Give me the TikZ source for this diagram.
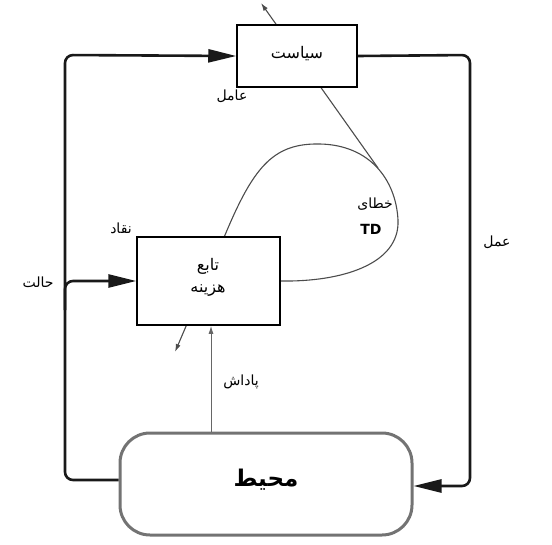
\documentclass[tikz,border=0pt]{standalone}
\usepackage{fontspec}
\newfontfamily\fa[Script=Arabic]{DejaVu Sans}
\setmainfont{DejaVu Sans}
\TeXXeTstate=1
\usetikzlibrary{arrows.meta}
\begin{document}
\begin{tikzpicture}[x=1pt,y=-1pt,
  box/.style={draw=black,line width=1.5pt,fill=white,inner sep=0pt},
  conn/.style={draw=black!90,line width=2.6pt,rounded corners=8pt,-{Triangle[length=28pt,width=13pt]}},
  thinline/.style={draw=black!70,line width=1.1pt},
  lbl/.style={font=\fa\fontsize{14}{16}\selectfont,inner sep=0pt},
  boxtxt/.style={font=\fa\fontsize{16}{18}\selectfont,inner sep=0pt}]
\useasboundingbox (0,0) rectangle (552,544);
% thin lines drawn beneath boxes
\coordinate (pa) at (378,168);
\coordinate (pb) at (261,3);
\coordinate (ca) at (175,352);
\coordinate (r) at (211,0);
\draw[thinline,-{Latex[length=8pt,width=5pt]}] (pa) -- (pb);
% boxes
\node[box,minimum width=120pt,minimum height=62pt] (policy) at (297,56) {};
\node[box,minimum width=143pt,minimum height=88pt] (critic) at (208.5,281) {};
\node[draw=black!55,line width=3pt,rounded corners=30pt,fill=white,minimum width=292pt,minimum height=102pt,inner sep=0pt] (env) at (266,484) {};
% TD error curve
\draw[thinline,-{Latex[length=8pt,width=5pt]}] (critic.east) .. controls (340,282) and (400,265) .. (398,220)
  .. controls (396,180) and (370,145) .. (320,144)
  .. controls (275,143) and (255,165) .. (228,228) -- (ca);
\node[box,minimum width=143pt,minimum height=88pt] (critic2) at (208.5,281) {};
\node[box,minimum width=120pt,minimum height=62pt] (policy2) at (297,56) {};
% box texts
\node[boxtxt] (ptxt) at (297,54) {\beginR سیاست\endR};
\node[boxtxt] (ct1) at (208,266) {\beginR تابع\endR};
\node[boxtxt] (ct2) at (208,291) {\beginR هزینه\endR};
\node[font=\fa\bfseries\fontsize{23}{26}\selectfont,inner sep=0pt] (etxt) at (266,480) {\beginR محیط\endR};
% reward
\draw[line width=1pt,draw=black!60,-{Latex[length=8pt,width=5pt]}] (env.north -| r) -- (critic2.south -| r);
% thick connectors
\draw[conn] ([yshift=4pt]env.west) -- (65,480) -- (65,55) -- (policy2.west);
\draw[conn] (65,310) |- (critic2.west);
\draw[conn] (policy2.east) -- (470,55) -- (470,486) -- ([yshift=-2pt]env.east);
% labels
\node[lbl] (l1) at (232,96) {\beginR عامل\endR};
\node[lbl] (l2) at (121,228) {\beginR نقاد\endR};
\node[lbl] (l3) at (38,282) {\beginR حالت\endR};
\node[lbl] (l4) at (497,242) {\beginR عمل\endR};
\node[lbl] (l5) at (241,382) {\beginR پاداش\endR};
\node[lbl] (l6) at (375,204) {\beginR خطای\endR};
\node[font=\bfseries\fontsize{14}{16}\selectfont,inner sep=0pt] (l7) at (371,229) {TD};
\end{tikzpicture}
\end{document}
